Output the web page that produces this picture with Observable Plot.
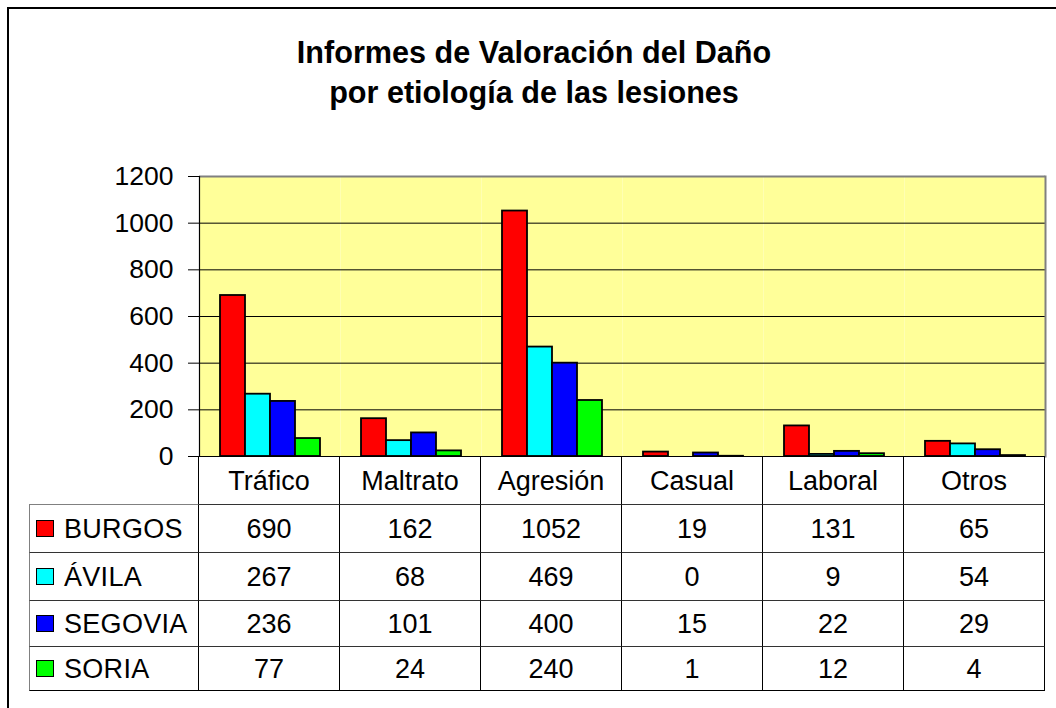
<!DOCTYPE html>
<html>
<head>
<meta charset="utf-8">
<script src="https://cdn.jsdelivr.net/npm/d3@7"></script>
<script src="https://cdn.jsdelivr.net/npm/@observablehq/plot@0.6"></script>
<style>
  html, body { margin: 0; padding: 0; background: #fff; overflow: hidden; }
  #page { position: relative; width: 1056px; height: 708px; overflow: hidden; font-family: "Liberation Sans", Arial, sans-serif; color: #000; }
  #frame { position: absolute; left: 7px; top: 7px; width: 1100px; height: 800px; border: 2px solid #000; box-sizing: border-box; }
  #title { position: absolute; left: 0; top: 32px; width: 1068px; text-align: center; font-weight: bold; font-size: 30.6px; line-height: 40px; }
  #chart { position: absolute; left: 0; top: 150px; }
  #table { position: absolute; left: 29px; top: 456px; display: grid;
           grid-template-columns: 170px repeat(6, 141px);
           grid-template-rows: 49px 48px 48px 46px 44px;
           font-size: 27px; }
  #table div { box-sizing: border-box; display: flex; align-items: center; justify-content: center;
               border-right: 1px solid #000; border-bottom: 1px solid #333; padding-top: 2px; }
  #table div.lab { justify-content: flex-start; border-left: 1px solid #808080; padding-left: 6px; letter-spacing: 0.3px; }
  #table div.corner { border-left: none; border-bottom: 1px solid #808080; }
  #table div.last { border-bottom: 1px solid #000; }
  .sw { display: inline-block; width: 18px; height: 17px; box-sizing: border-box; border: 1px solid #000; margin-right: 10px; margin-top: -2px; }
</style>
</head>
<body>
<div id="page">
  <div id="frame"></div>
  <div id="title">Informes de Valoración del Daño<br>por etiología de las lesiones</div>
  <div id="chart"></div>
  <div id="table"></div>
</div>
<script>
const categories = ["Tráfico", "Maltrato", "Agresión", "Casual", "Laboral", "Otros"];
const series = ["BURGOS", "ÁVILA", "SEGOVIA", "SORIA"];
const seriesColors = ["#FF0000", "#00FFFF", "#0000FF", "#00FF00"];
const burgos = [690, 162, 1052, 19, 131, 65];
const avila = [267, 68, 469, 0, 9, 54];
const segovia = [236, 101, 400, 15, 22, 29];
const soria = [77, 24, 240, 1, 12, 4];
const yTicks = [0, 200, 400, 600, 800, 1000, 1200];

const seriesValues = [burgos, avila, segovia, soria];
const data = series.flatMap((s, i) => categories.map((c, j) => ({category: c, series: s, value: seriesValues[i][j]})));

const chart = Plot.plot({
  width: 1056,
  height: 308,
  marginTop: 26,
  marginBottom: 2,
  marginLeft: 199,
  marginRight: 11,
  style: {background: "transparent", overflow: "visible", fontFamily: "Liberation Sans, Arial, sans-serif"},
  fx: {domain: categories, padding: 0, axis: null},
  x: {domain: series, paddingInner: 0, paddingOuter: 0.738, axis: null},
  y: {domain: [0, 1200]},
  color: {domain: series, range: seriesColors},
  marks: [
    Plot.frame({fill: "#FFFF99", stroke: null}),
    Plot.gridY(yTicks.slice(1, -1), {stroke: "#000", strokeOpacity: 1, strokeWidth: 1}),
    Plot.ruleY([1200], {stroke: "#808080", strokeWidth: 2}),
    Plot.barY(data, {fx: "category", x: "series", y: "value", fill: "series", stroke: "#000", strokeWidth: 1.8}),
    Plot.ruleY([0], {stroke: "#000", strokeWidth: 1.2}),
    Plot.frame({anchor: "left", facetAnchor: "left", stroke: "#000", strokeWidth: 1.2}),
    Plot.frame({anchor: "right", facetAnchor: "right", stroke: "#808080", strokeWidth: 2}),
    Plot.axisY({ticks: yTicks, tickSize: 11, tickPadding: 15, tickFormat: d => String(d), fontSize: 26.5, stroke: "#000", fill: "#000", label: null})
  ]
});
document.getElementById("chart").appendChild(chart);

// data table built from the arrays
const table = document.getElementById("table");
function cell(text, cls) {
  const d = document.createElement("div");
  if (cls) d.className = cls;
  if (text !== null) d.textContent = text;
  table.appendChild(d);
  return d;
}
cell(null, "lab corner");
categories.forEach(c => cell(c));
series.forEach((s, i) => {
  const last = i === series.length - 1 ? " last" : "";
  const lab = cell(null, "lab" + last);
  const sw = document.createElement("span");
  sw.className = "sw";
  sw.style.background = seriesColors[i];
  lab.appendChild(sw);
  lab.appendChild(document.createTextNode(s));
  seriesValues[i].forEach(v => cell(String(v), last.trim()));
});
</script>
</body>
</html>
